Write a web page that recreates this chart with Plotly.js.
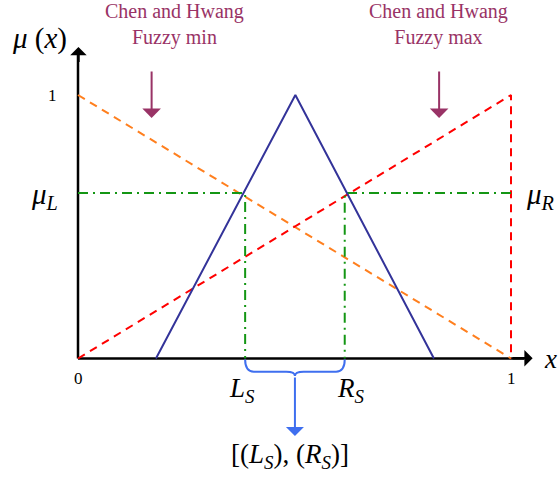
<!DOCTYPE html>
<html>
<head>
<meta charset="utf-8">
<script src="https://cdn.plot.ly/plotly-3.0.1.min.js"></script>
<style>
  html, body { margin: 0; padding: 0; background: #ffffff; }
  #plot { width: 558px; height: 477px; }
</style>
</head>
<body>
<div id="plot"></div>
<script>
// chart values
const minLineX = [0, 1];          // Chen and Hwang fuzzy min (orange)
const minLineY = [1, 0];
const maxLineX = [0, 1, 1];       // Chen and Hwang fuzzy max (red)
const maxLineY = [0, 1, 0];
const triX = [0.18, 0.502, 0.822];  // triangular fuzzy number
const triY = [0, 1, 0];
const muLevel = 0.628;            // mu_L = mu_R
const LS = 0.386;
const RS = 0.616;

const serif = '"Liberation Serif", "Times New Roman", serif';
const purple = '#993366';
const blue = '#3f6fef';
const axisColor = '#000000';

var tAxisY = {
    type: 'scatter', x: [0, 0], y: [0, 1.16], mode: 'lines', hoverinfo: 'skip',
    line: {color: axisColor, width: 2.5}
};
var tAxisX = {
    type: 'scatter', x: [0, 1.03], y: [0, 0], mode: 'lines', hoverinfo: 'skip',
    line: {color: axisColor, width: 2.5}
};
var tMin = {
    type: 'scatter', x: minLineX, y: minLineY, mode: 'lines', hoverinfo: 'skip',
    line: {color: '#ff7f1e', width: 2, dash: '8px,6px'}
};
var tMax = {
    type: 'scatter', x: maxLineX, y: maxLineY, mode: 'lines', hoverinfo: 'skip',
    line: {color: '#ff0000', width: 2, dash: '8px,6px'}
};
var tTri = {
    type: 'scatter', x: triX, y: triY, mode: 'lines', hoverinfo: 'skip',
    line: {color: '#333399', width: 2}
};
var green = {color: '#149614', width: 2, dash: '10px,5px,2px,5px'};
var tGreenL = {
    type: 'scatter', x: [0, LS, LS], y: [muLevel, muLevel, 0], mode: 'lines', hoverinfo: 'skip', line: green
};
var tGreenR = {
    type: 'scatter', x: [1, RS, RS], y: [muLevel, muLevel, 0], mode: 'lines', hoverinfo: 'skip', line: green
};

// brace under L_S .. R_S
const mid = (LS + RS) / 2;
const bh = -0.05, bh2 = -0.066, br = 0.02, by0 = -0.004;
const bracePath =
    'M' + LS + ',' + by0 +
    ' Q' + LS + ',' + bh + ' ' + (LS + br) + ',' + bh +
    ' L' + (mid - br) + ',' + bh +
    ' Q' + mid + ',' + bh + ' ' + mid + ',' + bh2 +
    ' Q' + mid + ',' + bh + ' ' + (mid + br) + ',' + bh +
    ' L' + (RS - br) + ',' + bh +
    ' Q' + RS + ',' + bh + ' ' + RS + ',' + by0;

function txt(x, y, text, size, color) {
    return {
        x: x, y: y, xref: 'x', yref: 'y', text: text, showarrow: false,
        font: {family: serif, size: size, color: color || '#000000'},
        xanchor: 'center', yanchor: 'middle'
    };
}

function arrow(x, y, ax, ay, color, width, size) {
    return {
        x: x, y: y, ax: ax, ay: ay, xref: 'x', yref: 'y', axref: 'x', ayref: 'y',
        text: '', showarrow: true, arrowhead: 1, arrowsize: size,
        arrowwidth: width, arrowcolor: color, standoff: 0, startstandoff: 0
    };
}

var annotations = [
    // axis arrowheads
    arrow(0.001, 1.182, 0.001, 1.12, axisColor, 2.5, 1.1),
    arrow(1.05, 0.001, 1.0, 0.001, axisColor, 2.5, 1.1),
    // purple pointers
    arrow(0.17, 0.913, 0.17, 1.095, purple, 2, 1.55),
    arrow(0.834, 0.913, 0.834, 1.095, purple, 2, 1.55),
    // blue arrow from brace
    arrow(mid, -0.294, mid, bh2, blue, 2, 1.5),

    txt(0.222, 1.268, 'Chen and Hwang<br>Fuzzy min', 20, purple),
    txt(0.833, 1.268, 'Chen and Hwang<br>Fuzzy max', 20, purple),
    txt(-0.088, 1.215, '<i>μ</i> (<i>x</i>)', 29),
    txt(-0.06, 1.0, '1', 17),
    txt(0, -0.075, '0', 17),
    txt(1, -0.075, '1', 17),
    txt(1.092, 0.0, '<i>x</i>', 27),
    txt(-0.078, 0.615, '<i>μ</i><sub><i>L</i></sub>', 29),
    txt(1.068, 0.615, '<i>μ</i><sub><i>R</i></sub>', 29),
    txt(0.378, -0.12, '<i>L</i><sub><i>S</i></sub>', 27),
    txt(0.63, -0.12, '<i>R</i><sub><i>S</i></sub>', 27),
    txt(0.489, -0.37, '[(<i>L</i><sub><i>S</i></sub>), (<i>R</i><sub><i>S</i></sub>)]', 27)
];

var layout = {
    width: 558,
    height: 477,
    margin: {l: 0, r: 0, t: 0, b: 0, pad: 0},
    showlegend: false,
    font: {family: serif},
    paper_bgcolor: '#ffffff',
    plot_bgcolor: '#ffffff',
    xaxis: {range: [-0.18014, 1.10854], showgrid: false, zeroline: false,
            showticklabels: false, showline: false, ticks: '', fixedrange: true},
    yaxis: {range: [-0.44972, 1.36053], showgrid: false, zeroline: false,
            showticklabels: false, showline: false, ticks: '', fixedrange: true},
    shapes: [
        {type: 'path', xref: 'x', yref: 'y', path: bracePath,
         line: {color: blue, width: 2}}
    ],
    annotations: annotations
};

Plotly.newPlot('plot', [tAxisY, tAxisX, tMin, tMax, tGreenL, tGreenR, tTri], layout, {displayModeBar: false, staticPlot: true});
</script>
</body>
</html>
